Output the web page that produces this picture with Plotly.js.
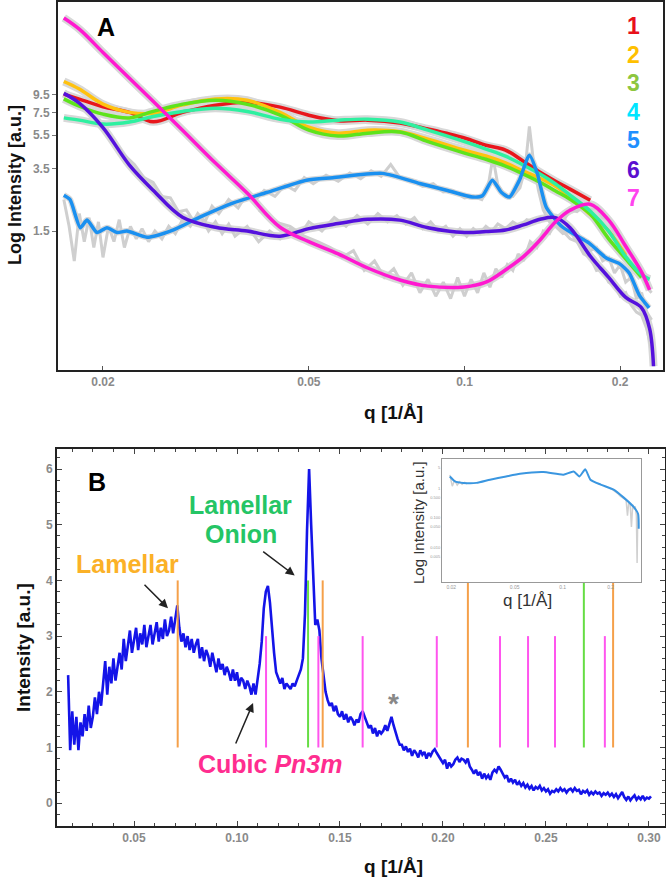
<!DOCTYPE html>
<html><head><meta charset="utf-8">
<script src="https://cdn.plot.ly/plotly-3.0.1.min.js"></script>
<style>html,body{margin:0;padding:0;background:#fff}#chart{width:666px;height:883px}</style>
</head><body><div id="chart"></div>
<script>
// ---------- Panel A data ----------
const qA = [0.0168,0.018,0.02,0.0225,0.025,0.0285,0.033,0.038,0.044,0.05,0.057,0.065,0.075,0.085,0.1,0.11,0.12,0.13,0.14,0.15,0.16,0.175,0.19,0.205,0.22,0.228,0.232];
const I1 = [9.6,8.97,8.1,7.5,6.6,7.5,8.27,8.6,8.05,7.22,6.7,6.75,6.5,5.99,5.3,4.8,4.5,3.87,3.33,2.95,2.65,2.28,null,null,null,null,null];
const I2 = [11.4,10.3,8.38,7.5,7.4,8.3,9.0,8.85,7.5,6.13,5.66,5.89,5.77,5.22,4.49,4.15,3.78,3.38,3.07,2.75,2.38,1.88,1.5,1.08,null,null,null];
const I3 = [9.0,8.15,7.32,6.96,7.6,8.38,8.85,8.38,7.22,5.89,5.44,5.66,5.74,5.04,4.32,3.97,3.62,3.25,2.91,2.58,2.31,1.89,1.35,1.03,0.8,null,null];
const I4 = [6.96,6.75,6.4,6.58,7.1,7.6,7.94,7.6,6.84,6.58,6.75,6.84,6.58,5.89,5.04,4.56,4.14,3.67,3.25,2.84,2.44,1.97,1.5,1.06,0.83,0.78,null];
const I6 = [9.7,8.5,6.1,3.67,2.61,1.81,1.58,1.5,1.4,1.55,1.66,1.76,1.74,1.57,1.47,1.49,1.52,1.63,1.76,1.8,1.57,1.07,0.8,0.61,0.53,0.4,0.24];
const I7 = [27,23.2,16.9,11.9,8.73,5.89,3.77,2.51,1.58,1.3,1.1,0.909,0.773,0.711,0.703,0.75,0.885,1.06,1.33,1.7,1.99,2.16,1.74,1.22,0.86,0.675,null];
const q5 = [0.0168,0.01727,0.01808,0.01863,0.01947,0.02036,0.02129,0.02225,0.02432,0.0273,0.03078,0.03564,0.04146,0.04952,0.0556,0.0694,0.0819,0.0923,0.1036,0.1083,0.1132,0.1178,0.1221,0.1277,0.1335,0.1383,0.1439,0.1545,0.1744,0.188,0.199,0.2082,0.2177,0.2275];
const I5 = [2.44,2.3,1.57,1.74,1.47,1.57,1.47,1.5,1.38,1.52,1.81,2.19,2.53,2.99,3.09,3.28,2.86,2.61,2.38,2.42,2.99,2.54,2.38,2.99,4.2,3.28,2.07,1.59,1.27,1.04,0.968,0.849,0.63,0.53];
// raw (noisy) data, grey
const g5q = [0.0168,0.0172,0.0176,0.018,0.0184,0.0188,0.0192,0.0196,0.02,0.0205,0.021,0.0215,0.022,0.0226,0.0232,0.0238,0.0245,0.0252,0.026,0.0268,0.0276,0.0285,0.0295,0.0305,0.0315,0.0325,0.0335,0.035,0.0365,0.038,0.0395,0.041,0.043,0.045,0.047,0.049,0.051,0.054,0.057,0.06,0.063,0.066,0.069,0.072,0.075,0.079,0.083,0.087,0.091,0.095,0.1,0.104,0.108,0.111,0.1135,0.116,0.12,0.124,0.128,0.131,0.1335,0.136,0.139,0.142,0.146,0.15,0.155,0.16,0.165,0.17,0.175,0.18,0.185,0.19,0.195,0.2,0.205,0.21,0.215,0.22,0.225,0.23];
const g5I = [2.3,1.6,1.0,1.9,1.3,1.8,1.2,1.7,1.05,1.6,1.3,1.75,1.2,1.6,1.35,1.55,1.3,1.5,1.35,1.6,1.45,1.75,1.6,1.9,1.7,2.1,1.9,2.3,2.05,2.5,2.3,2.6,2.4,2.8,2.6,3.1,2.85,3.2,2.95,3.3,3.05,3.4,3.15,3.7,3.1,3.0,2.75,2.85,2.55,2.6,2.35,2.4,2.3,2.7,4.1,2.8,2.4,2.4,2.7,3.5,6.2,3.8,2.6,2.0,1.7,1.6,1.45,1.5,1.3,1.35,1.15,1.2,1.0,1.05,0.85,0.95,0.75,0.8,0.6,0.65,0.5,0.45];
const g6q = [0.0168,0.0175,0.0182,0.019,0.02,0.021,0.022,0.023,0.024,0.025,0.026,0.027,0.028,0.029,0.03,0.031,0.032,0.033,0.034,0.035,0.036,0.038,0.04,0.042,0.044,0.046,0.048,0.05,0.053,0.056,0.059,0.062,0.065,0.068,0.071,0.074,0.077,0.08,0.083,0.086,0.089,0.092,0.095,0.098,0.101,0.104,0.107,0.11,0.113,0.116,0.12,0.124,0.128,0.132,0.136,0.14,0.145,0.15,0.155,0.16,0.165,0.17,0.175,0.18,0.185,0.19,0.195,0.2,0.205,0.21,0.215,0.22,0.225,0.23];
const g6I = [9.8,9.0,8.2,7.2,6.0,5.0,4.2,3.7,3.1,2.9,2.4,2.35,1.95,2.0,1.7,1.8,1.5,1.7,1.45,1.65,1.4,1.6,1.3,1.5,1.35,1.55,1.4,1.7,1.5,1.8,1.6,1.85,1.65,1.9,1.7,1.85,1.65,1.8,1.55,1.7,1.5,1.6,1.4,1.55,1.4,1.55,1.45,1.6,1.5,1.65,1.55,1.7,1.6,1.75,1.7,1.8,1.75,1.7,1.5,1.35,1.3,1.1,1.05,0.88,0.9,0.75,0.72,0.62,0.65,0.55,0.5,0.48,0.4,0.3];
const g7q = [0.04,0.043,0.046,0.049,0.052,0.055,0.058,0.061,0.064,0.067,0.07,0.073,0.076,0.079,0.082,0.085,0.088,0.091,0.094,0.097,0.1,0.103,0.106,0.109,0.112,0.115,0.118,0.121,0.124,0.127,0.13,0.134,0.138,0.142,0.146,0.15,0.155,0.16,0.165,0.17,0.175,0.18,0.185,0.19,0.195,0.2,0.205,0.21,0.215,0.22,0.225,0.23];
const g7I = [2.0,1.7,1.6,1.4,1.3,1.2,1.05,1.15,0.88,1.0,0.8,0.9,0.72,0.85,0.65,0.78,0.62,0.75,0.6,0.8,0.62,0.78,0.65,0.85,0.7,0.9,0.8,0.95,0.88,1.1,1.0,1.3,1.2,1.5,1.45,1.75,1.7,2.0,1.95,2.1,2.0,2.05,1.8,1.75,1.45,1.4,1.15,1.1,0.9,0.85,0.7,0.65];
const seriesNames = ['1','2','3','4','5','6','7'];
const lineColors = ['#e8161c','#ffc20e','#5ee31c','#2ef0a0','#1a90f0','#5511dd','#ff19d0'];
const labelColors = ['#e8101a','#ffc000','#8dc63f','#00e5ff','#1e90ff','#5a10d0','#ff44ee'];

// ---------- Panel B data ----------
const qB0 = 0.018, dqB = 0.001;
const IB = [2.3,0.95,1.65,1.05,1.55,0.95,1.45,1.2,1.6,1.3,
1.75,1.35,1.55,1.9,1.6,2.0,1.75,2.2,2.55,1.95,
2.45,2.15,2.6,2.2,2.45,2.7,2.4,2.95,2.55,2.85,
3.1,2.7,2.95,3.15,2.75,3.05,2.85,3.2,2.8,3.0,
3.2,2.85,3.05,3.25,2.9,3.15,2.95,3.3,3.0,3.1,
3.35,3.05,3.3,3.55,3.15,2.9,3.05,2.8,3.0,2.75,
2.95,2.7,2.85,2.95,2.6,2.8,2.55,2.75,2.65,2.45,
2.7,2.5,2.35,2.6,2.4,2.5,2.3,2.45,2.35,2.2,
2.4,2.2,2.35,2.1,2.25,2.2,2.05,2.2,2.1,1.95,
2.15,1.95,2.2,2.5,2.9,3.5,3.8,3.9,3.6,3.1,
2.7,2.35,2.25,2.15,2.25,2.05,2.15,2.1,2.05,2.15,
2.1,2.2,2.3,2.4,2.6,3.4,4.9,6.0,5.0,3.9,
3.2,3.3,3.1,2.6,2.3,2.0,1.85,1.75,1.8,1.65,
1.75,1.6,1.55,1.65,1.5,1.6,1.45,1.55,1.5,1.4,
1.5,1.45,1.6,1.65,1.55,1.45,1.35,1.4,1.25,1.35,
1.2,1.3,1.25,1.3,1.4,1.3,1.45,1.55,1.4,1.25,
1.15,1.05,1.05,0.95,1.02,0.92,0.98,0.85,0.95,0.9,
0.82,0.95,0.87,0.92,0.8,0.9,0.85,0.93,0.97,0.9,
0.85,0.78,0.72,0.78,0.62,0.73,0.66,0.7,0.78,0.82,
0.74,0.8,0.78,0.73,0.8,0.66,0.6,0.53,0.6,0.5,
0.56,0.44,0.53,0.45,0.5,0.42,0.55,0.6,0.56,0.66,
0.6,0.52,0.46,0.5,0.38,0.44,0.37,0.42,0.33,0.38,
0.31,0.36,0.28,0.33,0.26,0.31,0.23,0.29,0.26,0.31,
0.23,0.27,0.21,0.25,0.17,0.22,0.2,0.25,0.21,0.27,
0.22,0.25,0.19,0.24,0.26,0.21,0.27,0.22,0.24,0.16,
0.22,0.19,0.23,0.15,0.2,0.16,0.21,0.17,0.19,0.13,
0.18,0.15,0.19,0.13,0.17,0.11,0.16,0.09,0.14,0.2,
0.11,0.06,0.12,0.05,0.1,0.14,0.06,0.11,0.07,0.13,
0.06,0.1,0.08,0.12];
const lamellarQ = [0.0712,0.1416,0.2121,0.2826];
const onionQ = [0.1345,0.2684];
const cubicQ = [0.1141,0.1395,0.161,0.197,0.2277,0.2413,0.2544,0.2786];

// ---------- Inset data ----------
const qIn = [0.0196,0.0211,0.0238,0.0288,0.035,0.0442,0.054,0.0757,0.101,0.1171,0.1274,0.1385,0.1493,0.1731,0.2086,0.2417,0.2806,0.2974,0.3];
const IIn = [2.56,1.75,1.55,1.55,1.99,2.56,3.15,3.59,2.93,3.76,2.56,4.5,1.99,1.36,0.92,0.49,0.227,0.136,0.043];
const qInG = [0.0196,0.0203,0.021,0.0218,0.0226,0.0234,0.0243,0.0252,null,0.2,0.21,0.22,0.23,0.24,0.25,0.255,0.26,0.265,0.27,0.275,0.28,0.285,0.29,0.293,0.296,0.299];
const IInG = [2.9,1.2,1.9,1.3,1.7,1.4,1.6,1.45,null,1.0,0.85,0.7,0.55,0.45,0.4,0.12,0.35,0.3,0.05,0.28,0.2,0.25,0.12,0.003,0.15,0.05];

// ---------- build ----------
const FONT = 'Liberation Sans, Arial, Helvetica, sans-serif';
const W = 666, H = 883;
const PX = x => x / W, PY = y => 1 - y / H;
const traces = [];
const aCurves = [I1, I2, I3, I4, null, I6, I7];
aCurves.forEach(arr => { if (arr) traces.push({x: qA, y: arr, xaxis:'x', yaxis:'y', mode:'lines', line:{color:'#d8d8d8', width:8, shape:'spline'}, hoverinfo:'skip'}); });
traces.push({x: q5, y: I5, xaxis:'x', yaxis:'y', mode:'lines', line:{color:'#d8d8d8', width:6, shape:'spline', smoothing:0.6}});
[[g5q,g5I],[g6q,g6I],[g7q,g7I]].forEach(p => traces.push({x:p[0], y:p[1], xaxis:'x', yaxis:'y', mode:'lines', line:{color:'#cfcfcf', width:3}}));
aCurves.forEach((arr, i) => {
  if (i === 4) traces.push({x: q5, y: I5, xaxis:'x', yaxis:'y', mode:'lines', name:seriesNames[i], line:{color:lineColors[i], width:3.5, shape:'spline', smoothing:0.6}});
  else traces.push({x: qA, y: arr, xaxis:'x', yaxis:'y', mode:'lines', name:seriesNames[i], line:{color:lineColors[i], width:3.5, shape:'spline'}});
});
traces.push({y: IB, x0: qB0, dx: dqB, xaxis:'x2', yaxis:'y2', mode:'lines', line:{color:'#1414e8', width:2.6}});
function vlines(qs, y0, y1, color) {
  const xs = [], ys = [];
  qs.forEach(q => { xs.push(q, q, null); ys.push(y0, y1, null); });
  return {x: xs, y: ys, xaxis:'x2', yaxis:'y2', mode:'lines', line:{color: color, width:2}};
}
traces.push(vlines(lamellarQ, 1, 4, '#f5a04a'));
traces.push(vlines(onionQ, 1, 4, '#66dd44'));
traces.push(vlines(cubicQ, 1, 3, '#ff55ee'));
traces.push({x: qInG, y: IInG, xaxis:'x3', yaxis:'y3', mode:'lines', line:{color:'#d0d0d0', width:1.5}});
traces.push({x: qIn, y: IIn, xaxis:'x3', yaxis:'y3', mode:'lines', line:{color:'#3a96e0', width:2, shape:'spline', smoothing:0.5}});

const tickFont = {family: FONT, size: 12, color: '#8a8a8a', weight: 'bold'};
const ann = [];
function txt(text, x, y, size, color, extra) {
  ann.push(Object.assign({text: text, xref:'paper', yref:'paper', x: PX(x), y: PY(y), xanchor:'center', yanchor:'middle', showarrow:false, font:{family: FONT, size: size, color: color}}, extra || {}));
}
txt('<b>A</b>', 106, 27, 25, '#000');
txt('<b>B</b>', 97, 482, 25, '#000');
seriesNames.forEach((n, i) => txt('<b>' + n + '</b>', 633, [26,55,83,112,140,170,198][i], 23, labelColors[i]));
txt('<b>q [1/Å]</b>', 393, 412, 19, '#111');
txt('<b>Log Intensity [a.u.]</b>', 15, 185, 18, '#111', {textangle: -90});
txt('<b>Intensity [a.u.]</b>', 23, 648, 19, '#111', {textangle: -90});
txt('<b>q [1/Å]</b>', 393, 866, 19, '#111');
txt('<b>Lamellar</b>', 127, 564, 25, '#fbb128');
txt('<b>Lamellar</b>', 240, 505, 25, '#25c565');
txt('<b>Onion</b>', 241, 534, 25, '#25c565');
txt('<b>Cubic <i>Pn3m</i></b>', 270, 764, 25, '#ff2d8f');
txt('<b>*</b>', 393, 703, 28, '#888');
txt('Log Intensity [a.u.]', 418, 522, 15, '#333', {textangle: -90});
txt('q [1/Å]', 527, 600, 17, '#333');
[[0.0665, 3.5, -25, -25], [0.128, 4.09, -33, -25], [0.1078, 1.8, -18, 42]].forEach(a => {
  ann.push({x: a[0], y: a[1], xref:'x2', yref:'y2', ax: a[2], ay: a[3], text:'', showarrow:true, arrowhead:2, arrowsize:1.2, arrowwidth:1.5, arrowcolor:'#222'});
});

const layout = {
  width: W, height: H, margin:{l:0, r:0, t:0, b:0},
  paper_bgcolor:'#fff', plot_bgcolor:'#fff', showlegend:false,
  font:{family: FONT},
  xaxis:{domain:[PX(58), PX(663)], anchor:'y', type:'log', range:[Math.log10(0.01637), Math.log10(0.242)],
    tickmode:'array', tickvals:[0.02,0.05,0.1,0.2], ticktext:['0.02','0.05','0.1','0.2'],
    ticks:'inside', ticklen:4, tickcolor:'#555', showline:true, linecolor:'#222', linewidth:2, mirror:true,
    showgrid:false, zeroline:false, tickfont: tickFont, automargin:false},
  yaxis:{domain:[PY(370), PY(2)], anchor:'x', type:'log', range:[Math.log10(0.228), Math.log10(33.5)],
    tickmode:'array', tickvals:[1.5,3.5,5.5,7.5,9.5], ticktext:['1.5','3.5','5.5','7.5','9.5'],
    ticks:'outside', ticklen:4, tickcolor:'#777', showline:true, linecolor:'#222', linewidth:2, mirror:true,
    showgrid:false, zeroline:false, tickfont: tickFont, automargin:false},
  xaxis2:{domain:[PX(57), PX(665)], anchor:'y2', range:[0.0126, 0.3078], tickmode:'linear', tick0:0, dtick:0.05, tickformat:'.2f',
    ticks:'inside', ticklen:5, tickcolor:'#444', minor:{tickmode:'linear', tick0:0, dtick:0.01, ticks:'inside', ticklen:3, tickcolor:'#444'},
    showline:true, linecolor:'#222', linewidth:2, mirror:'allticks', showgrid:false, zeroline:false, tickfont: tickFont, automargin:false},
  yaxis2:{domain:[PY(826), PY(449)], anchor:'x2', range:[-0.41, 6.36], tickmode:'linear', tick0:0, dtick:1,
    ticks:'inside', ticklen:5, tickcolor:'#444', minor:{tickmode:'linear', tick0:0, dtick:0.2, ticks:'inside', ticklen:3, tickcolor:'#444'},
    showline:true, linecolor:'#222', linewidth:2, mirror:'allticks', showgrid:false, zeroline:false, tickfont: tickFont, automargin:false},
  xaxis3:{domain:[PX(442), PX(641)], anchor:'y3', type:'log', range:[Math.log10(0.0175), Math.log10(0.31)],
    tickmode:'array', tickvals:[0.02,0.05,0.1,0.2], ticktext:['0.02','0.05','0.1','0.2'], ticks:'',
    showline:true, linecolor:'#999', linewidth:1, mirror:true, showgrid:false, zeroline:false,
    tickfont:{family: FONT, size:5, color:'#999'}, automargin:false},
  yaxis3:{domain:[PY(582), PY(459)], anchor:'x3', type:'log', range:[-3.17, 1.0],
    tickmode:'array', tickvals:[5,1,0.5,0.1,0.05,0.01,0.005], ticktext:['5','1','0.500','0.100','0.050','0.010','0.005'], ticks:'',
    showline:true, linecolor:'#999', linewidth:1, mirror:true, showgrid:false, zeroline:false,
    tickfont:{family: FONT, size:4, color:'#999'}, automargin:false},
  annotations: ann
};
Plotly.newPlot('chart', traces, layout, {staticPlot:true, displayModeBar:false});
</script></body></html>
